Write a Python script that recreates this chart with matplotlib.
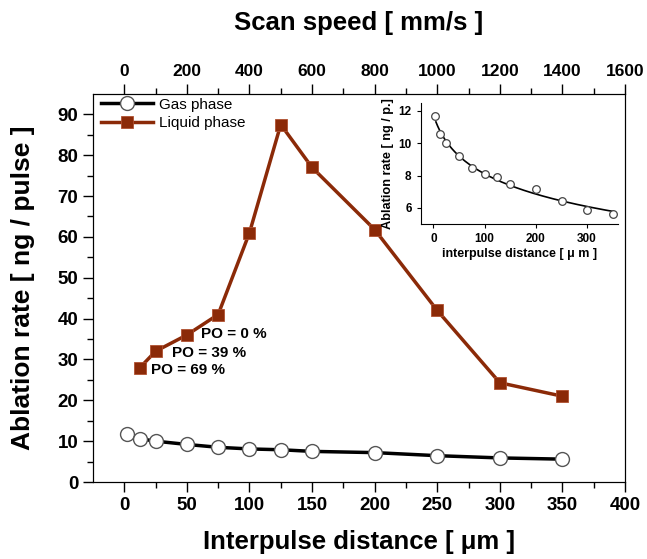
import numpy as np
import matplotlib
matplotlib.use('Agg')
import matplotlib.pyplot as plt

plt.rcParams['font.family'] = ['Liberation Sans', 'DejaVu Sans']

# data
gas_x = [2.5, 12.5, 25, 50, 75, 100, 125, 150, 200, 250, 300, 350]
gas_y = [11.7, 10.6, 10.0, 9.2, 8.5, 8.1, 7.9, 7.5, 7.2, 6.45, 5.9, 5.6]

liq_x = [12.5, 25, 50, 75, 100, 125, 150, 200, 250, 300, 350]
liq_y = [28, 32, 36, 41, 61, 87.5, 77, 61.8, 42, 24.3, 21]

po_labels = ['PO = 0 %', 'PO = 39 %', 'PO = 69 %']
po_pos = [(61, 36.2), (38, 31.6), (21, 27.4)]

liq_color = '#8b2a08'

fig = plt.figure(figsize=(6.47, 5.59), dpi=100)
ax = fig.add_axes([0.1437, 0.1377, 0.8223, 0.6943])

ax.plot(gas_x, gas_y, '-o', color='black', lw=2.5, ms=10,
        mfc='white', mec='#555555', mew=1.0, label='Gas phase')
ax.plot(liq_x, liq_y, '-s', color=liq_color, lw=2.5, ms=8,
        mfc=liq_color, mec='#b05030', mew=0.6, label='Liquid phase')

for txt, (px, py) in zip(po_labels, po_pos):
    ax.text(px, py, txt, fontsize=11, fontweight='bold', ha='left', va='center')

ax.set_xlim(-25, 400)
ax.set_ylim(0, 95)
ax.set_xticks(np.arange(0, 401, 50))
ax.set_xticks(np.arange(25, 400, 50), minor=True)
ax.set_yticks(np.arange(0, 91, 10))
ax.set_yticks(np.arange(5, 95, 10), minor=True)
ax.tick_params(axis='both', which='major', direction='out', length=7, width=1,
               labelsize=13.5)
ax.tick_params(axis='both', which='minor', direction='out', length=4, width=1)
for lab in ax.get_xticklabels() + ax.get_yticklabels():
    lab.set_fontweight('bold')
ax.set_xlabel('Interpulse distance [ \u03bcm ]', fontsize=18.5, fontweight='bold',
              labelpad=12)
ax.set_ylabel('Ablation rate [ ng / pulse ]', fontsize=19, fontweight='bold',
              labelpad=16)

leg = ax.legend(loc='upper left', frameon=False, fontsize=11,
                handlelength=3.4, borderaxespad=0.1, labelspacing=0.3,
                handletextpad=0.4, bbox_to_anchor=(0.0, 1.01))

# top axis: scan speed
ax2 = ax.twiny()
ax2.set_xlim(-100, 1600)
ax2.set_xticks(np.arange(0, 1601, 200))
ax2.set_xticks(np.arange(100, 1600, 200), minor=True)
ax2.tick_params(axis='x', which='major', direction='out', length=7, width=1,
                labelsize=12.5)
ax2.tick_params(axis='x', which='minor', direction='out', length=4, width=1)
for lab in ax2.get_xticklabels():
    lab.set_fontweight('bold')
ax2.set_xlabel('Scan speed [ mm/s ]', fontsize=18.5, fontweight='bold', labelpad=25)

# inset with a smooth log fit of the gas data
ins = fig.add_axes([0.650, 0.599, 0.305, 0.217])
gx = np.array(gas_x)
gy = np.array(gas_y)
best = None
for c in np.linspace(1, 100, 200):
    A = np.column_stack([np.ones_like(gx), np.log(gx + c)])
    coef = np.linalg.lstsq(A, gy, rcond=None)[0]
    sse = np.sum((A @ coef - gy) ** 2)
    if best is None or sse < best[0]:
        best = (sse, c, coef)
_, c, coef = best
xf = np.linspace(5, 350, 200)
yf = coef[0] + coef[1] * np.log(xf + c)
ins.plot(xf, yf, color='black', lw=1.2)
ins.plot(gx, gy, 'o', ms=5.5, mfc='white', mec='#444444', mew=0.9)
ins.set_xlim(-25, 360)
ins.set_ylim(5, 12.5)
ins.set_xticks([0, 100, 200, 300])
ins.set_yticks([6, 8, 10, 12])
ins.spines['top'].set_visible(False)
ins.spines['right'].set_visible(False)
ins.patch.set_alpha(0)
ins.tick_params(direction='out', length=3, width=0.8, labelsize=8.5)
for lab in ins.get_xticklabels() + ins.get_yticklabels():
    lab.set_fontweight('bold')
ins.set_xlabel('interpulse distance [ \u03bc m ]', fontsize=9, fontweight='bold',
               labelpad=2)
ins.set_ylabel('Ablation rate [ ng / p.]', fontsize=9.2, fontweight='bold',
               labelpad=3)

fig.savefig('out.png', dpi=100)
